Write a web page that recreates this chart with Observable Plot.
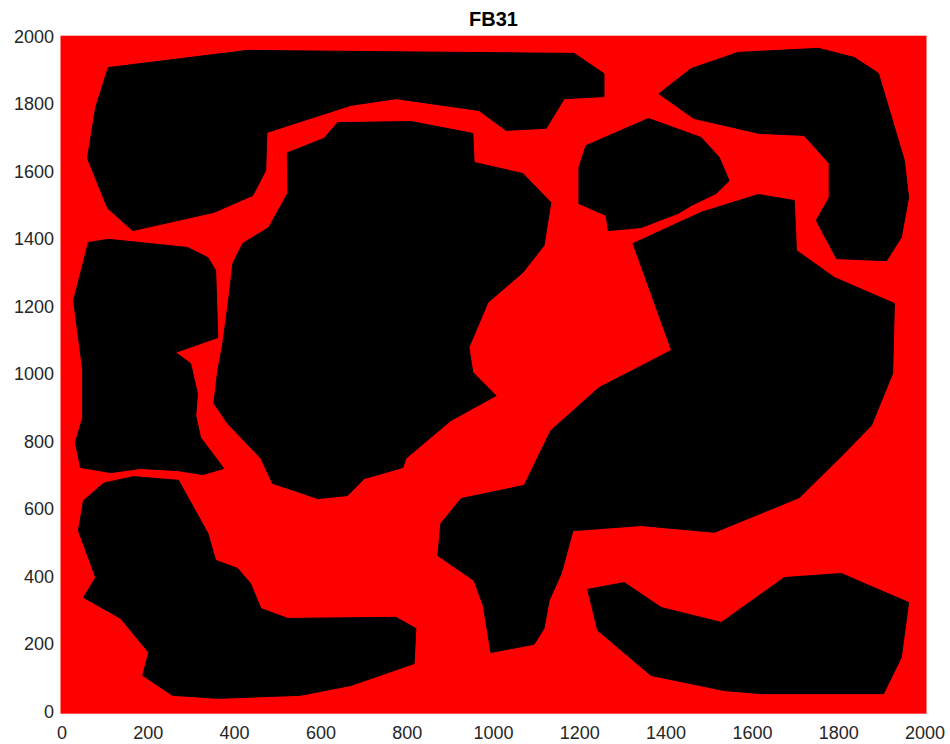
<!DOCTYPE html>
<html>
<head>
<meta charset="utf-8">
<script src="https://cdn.jsdelivr.net/npm/d3@7"></script>
<script src="https://cdn.jsdelivr.net/npm/@observablehq/plot@0.6"></script>
<style>
  html, body { margin: 0; padding: 0; background: #ffffff; }
  #chart { width: 950px; height: 744px; }
</style>
</head>
<body>
<div id="chart"></div>
<script>
// ---- Data (map coordinates) ----
const title = "FB31";
const xTicks = [0, 200, 400, 600, 800, 1000, 1200, 1400, 1600, 1800, 2000];
const yTicks = [0, 200, 400, 600, 800, 1000, 1200, 1400, 1600, 1800, 2000];
const xDomain = [0, 2000];
const yDomain = [0, 2000];

const obstacle1 = [[108,1910],[430,1961],[669,1958],[1187,1952],[1256,1892],[1256,1824],[1164,1818],[1122,1730],[1029,1724],[966,1783],[774,1818],[669,1798],[475,1718],[472,1605],[442,1531],[352,1481],[164,1427],[106,1493],[59,1641],[78,1792]];
const obstacle2 = [[62,1392],[108,1401],[291,1377],[338,1347],[356,1309],[361,1110],[263,1066],[298,1033],[314,944],[310,879],[321,814],[375,722],[326,704],[268,716],[182,722],[113,710],[43,725],[31,799],[48,873],[48,1013],[27,1220]];
const obstacle3 = [[523,1658],[607,1700],[639,1747],[809,1750],[952,1715],[955,1629],[1068,1596],[1133,1510],[1117,1383],[1068,1303],[987,1214],[943,1081],[952,1007],[1006,938],[901,864],[797,752],[790,725],[700,692],[662,642],[593,633],[488,678],[461,752],[384,855],[352,915],[361,1013],[372,1087],[386,1220],[396,1330],[419,1389],[479,1436],[523,1537]];
const obstacle4 = [[166,698],[270,687],[338,530],[356,450],[407,426],[437,381],[461,307],[523,278],[774,281],[820,248],[816,144],[669,79],[553,50],[361,41],[256,50],[187,109],[201,177],[136,278],[50,340],[78,399],[38,538],[50,627],[96,678]];
const obstacle5 = [[1324,1389],[1481,1481],[1614,1534],[1697,1516],[1702,1368],[1790,1288],[1929,1211],[1925,1004],[1876,850],[1813,767],[1709,636],[1512,533],[1342,553],[1184,538],[1157,411],[1129,331],[1117,248],[1094,201],[994,177],[976,316],[955,390],[871,464],[878,559],[925,633],[1071,672],[1133,835],[1245,962],[1412,1072]];
const obstacle6 = [[1384,1833],[1458,1907],[1567,1955],[1753,1967],[1836,1940],[1892,1893],[1952,1635],[1962,1525],[1945,1407],[1911,1338],[1795,1344],[1748,1457],[1778,1525],[1778,1626],[1720,1709],[1616,1715],[1465,1759]];
const obstacle7 = [[1215,1679],[1359,1759],[1481,1703],[1523,1644],[1546,1575],[1516,1537],[1458,1501],[1428,1478],[1342,1436],[1266,1427],[1261,1472],[1198,1507],[1198,1614]];
const obstacle8 = [[1219,364],[1303,384],[1389,310],[1528,266],[1674,399],[1806,411],[1962,325],[1945,162],[1904,55],[1621,55],[1535,64],[1365,109],[1242,242]];

const obstacles = [obstacle1, obstacle2, obstacle3, obstacle4, obstacle5, obstacle6, obstacle7, obstacle8];
const rows = obstacles.flatMap((poly, i) => poly.map(([x, y]) => ({id: i, x, y})));

const chart = Plot.plot({
  width: 950,
  height: 744,
  marginTop: 36.7,
  marginBottom: 32.3,
  marginLeft: 61.5,
  marginRight: 25.5,
  style: {
    fontFamily: "'Liberation Sans', Arial, Helvetica, sans-serif",
    fontSize: "18px",
    color: "#262626",
    background: "#ffffff"
  },
  x: {domain: xDomain, ticks: xTicks, tickSize: 0, tickPadding: 14, label: null, tickFormat: d => String(d)},
  y: {domain: yDomain, ticks: yTicks, tickSize: 0, tickPadding: 8, label: null, tickFormat: d => String(d)},
  marks: [
    Plot.frame({fill: "#ff0000", stroke: "none", inset: -1.5}),
    Plot.line(rows, {x: "x", y: "y", z: "id", curve: "linear-closed", fill: "#000000", stroke: "#000000", strokeWidth: 1}),
    Plot.text([title], {frameAnchor: "top", dy: -18, lineAnchor: "middle", fontWeight: "bold", fontSize: 20, fill: "#000000"})
  ]
});
document.getElementById("chart").appendChild(chart);
</script>
</body>
</html>
